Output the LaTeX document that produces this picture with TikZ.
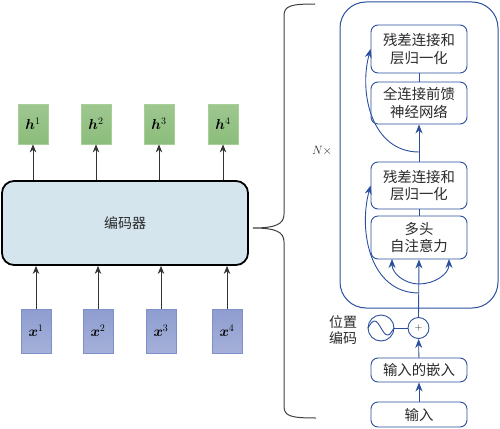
\documentclass[tikz,border=0pt]{standalone}
\usepackage{fontspec}
\usepackage{amsmath,bm}
\newfontfamily\cjk{Noto Sans CJK SC}
\usetikzlibrary{arrows.meta}
\definecolor{bl}{HTML}{2A4F9E}
\definecolor{hgreen}{HTML}{8CBD7C}
\definecolor{hgreenB}{HTML}{A6D096}
\definecolor{xblue}{HTML}{8E9DD0}
\definecolor{xblueB}{HTML}{7F90C8}
\definecolor{encfill}{HTML}{D4E5EE}
\definecolor{txt}{HTML}{2A2A2A}
\begin{document}
\begin{tikzpicture}[x=1pt,y=-1pt,
  hbox/.style={draw=hgreenB, line width=0.8pt, top color=hgreen!85!white, bottom color=hgreen, minimum width=30pt, minimum height=40pt, inner sep=0pt, font=\fontsize{14}{16}\selectfont},
  xbox/.style={draw=xblueB, line width=0.8pt, top color=xblue, bottom color=xblue!80!white, minimum width=30pt, minimum height=44pt, inner sep=0pt, font=\fontsize{14}{16}\selectfont},
  encbox/.style={draw=black, line width=1.8pt, fill=encfill, rounded corners=12pt, minimum width=246pt, minimum height=84pt, font=\cjk\fontsize{14}{16}\selectfont, text=txt},
  tbox/.style={draw=bl, line width=0.9pt, rounded corners=7pt, minimum width=96pt, fill=white, align=center, inner sep=0pt, font=\cjk\fontsize{14.4}{17.5}\selectfont, text=txt},
  karr/.style={-{Stealth[length=8pt,width=6.5pt]}, line width=0.8pt, draw=black!80},
  barr/.style={-{Stealth[length=9pt,width=7pt]}, line width=0.9pt, draw=bl, color=bl},
  bline/.style={line width=0.9pt, draw=bl}
]
\useasboundingbox (0,0) rectangle (500,428);

% ---------- left: encoder ----------
\node[encbox] (enc) at (125,223) {编码器};

\node[hbox] (h1) at (33,124) {$\bm{h}^1$};
\node[hbox] (h2) at (96,124) {$\bm{h}^2$};
\node[hbox] (h3) at (159,124) {$\bm{h}^3$};
\node[hbox] (h4) at (223,124) {$\bm{h}^4$};

\node[xbox] (x1) at (36,331) {$\bm{x}^1$};
\node[xbox] (x2) at (98,331) {$\bm{x}^2$};
\node[xbox] (x3) at (161,331) {$\bm{x}^3$};
\node[xbox] (x4) at (227,331) {$\bm{x}^4$};

\foreach \i in {1,2,3,4}{
  \draw[karr] (h\i.south |- enc.north) -- (h\i.south);
  \draw[karr] (x\i.north) -- (x\i.north |- enc.south);
}

% ---------- brace ----------
\draw[line width=1pt, draw=black!75]
  (315,4) .. controls (290,4) and (284,6) .. (284,16) -- (284,214)
  .. controls (284,224) and (276,228) .. (253,228)
  .. controls (276,228) and (284,232) .. (284,242) -- (284,406)
  .. controls (284,416) and (290,418) .. (316,418);
\node[font=\fontsize{13}{15}\selectfont, text=txt] (N) at (322,151) {$N\times$};

% ---------- right: transformer layer ----------
\node[draw=bl, line width=1pt, rounded corners=26pt, minimum width=158pt, minimum height=306pt] (layer) at (419,155) {};

\node[tbox, minimum height=48pt] (res1) at (419,49) {残差连接和\\层归一化};
\node[tbox, minimum height=42pt] (ffn) at (419,103) {全连接前馈\\神经网络};
\node[tbox, minimum height=47pt] (res2) at (419,185.5) {残差连接和\\层归一化};
\node[tbox, minimum height=43pt] (mha) at (419,237.5) {多头\\自注意力};
\node[tbox, minimum height=24pt] (emb) at (419,370) {输入的嵌入};
\node[tbox, minimum height=25pt] (inp) at (419,414.5) {输入};

\node[draw=bl, line width=0.9pt, circle, minimum size=21pt, inner sep=0pt, text=txt] (plus) at (418.5,328) {$+$};
\node[draw=bl, line width=0.9pt, circle, minimum size=26pt, inner sep=0pt] (pe) at (381,328) {};
\draw[bline] ([xshift=-13pt]pe.center) sin ++(6.5,-7) cos ++(6.5,7) sin ++(6.5,7) cos ++(6.5,-7);
\node[align=center, font=\cjk\fontsize{14}{16}\selectfont, text=txt] (pel) at (343,330) {位置\\编码};

\draw[bline] (pe) -- (plus);
\draw[barr] (inp) -- (emb);
\draw[barr] (emb) -- (plus);

% main stream
\draw[barr] (plus.north) -- (mha.south);
\draw[bline] (mha) -- (res2);
\draw[barr] (res2) -- (ffn);
\draw[bline] (ffn) -- (res1);

% branches into multi-head attention
\coordinate (br) at (419,284);
\coordinate (mhaL) at (392,259);
\coordinate (mhaR) at (449,259);
\draw[barr] (br) to[out=180,in=-90] (mhaL);
\draw[barr] (br) to[out=0,in=-90] (mhaR);

% residual connections
\coordinate (r2) at (419,293);
\draw[barr] (r2) to[out=180,in=-105,looseness=1.05] (res2.west);
\coordinate (r1) at (419,152);
\draw[barr] (r1) to[out=180,in=-105,looseness=1.05] (res1.west);
\end{tikzpicture}
\end{document}
